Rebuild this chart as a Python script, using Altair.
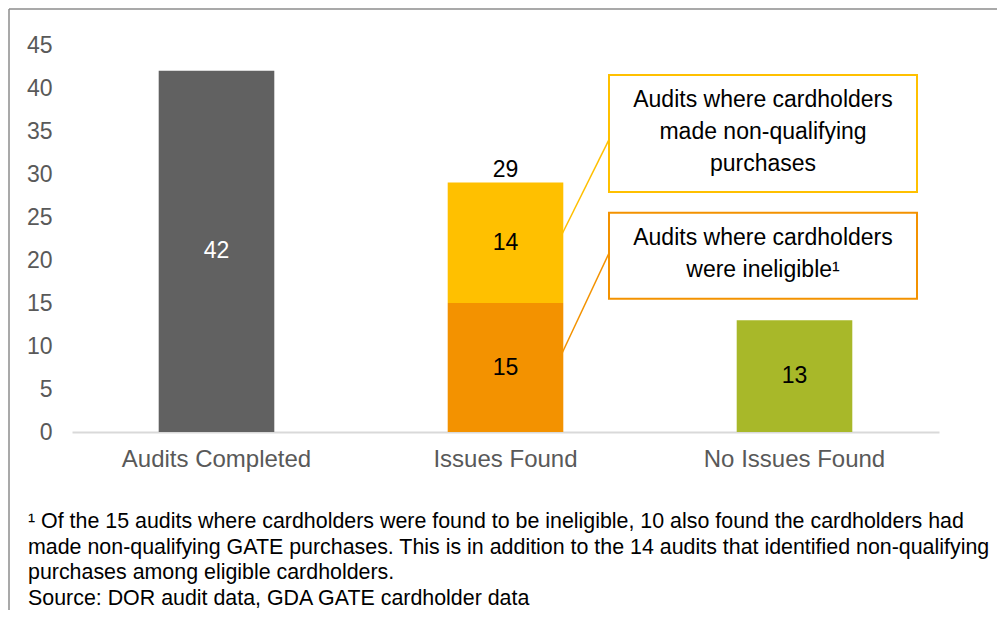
import altair as alt
import pandas as pd

# ---------------- data ----------------
cat_order = ["Audits Completed", "Issues Found", "No Issues Found"]
categories = ["Audits Completed", "Issues Found", "Issues Found", "No Issues Found"]
segments = ["Completed", "Ineligible", "Non-qualifying", "No issues"]
values = [42, 15, 14, 13]
stack_order = [0, 0, 1, 0]
seg_colors = ["#616161", "#F39200", "#FFC000", "#A8B829"]
label_colors = ["#FFFFFF", "#000000", "#000000", "#000000"]

total_cats = ["Issues Found"]
total_vals = [29]

callout_texts = [
    "Audits where cardholders\nmade non-qualifying\npurchases",
    "Audits where cardholders\nwere ineligible\u00b9",
]
callout_colors = ["#FFC000", "#F39200"]
callout_box_top = [41.5, 25.5]
callout_box_bottom = [27.9, 15.5]
callout_text_first = [38.6, 22.6]
leader_start = [22.3, 8.4]
leader_end = [34.0, 20.8]

footnote_lines = [
    "\u00b9 Of the 15 audits where cardholders were found to be ineligible, 10 also found the cardholders had",
    "made non-qualifying GATE purchases. This is in addition to the 14 audits that identified non-qualifying",
    "purchases among eligible cardholders.",
    "Source: DOR audit data, GDA GATE cardholder data",
]

FONT = "Liberation Sans"
W, H = 867, 387

# ---------------- tables ----------------
df = pd.DataFrame({
    "category": categories,
    "segment": segments,
    "value": values,
    "order": stack_order,
    "label_color": label_colors,
})
df = df.sort_values(["category", "order"]).reset_index(drop=True)
df["top"] = df.groupby("category")["value"].cumsum()
df["mid"] = df["top"] - df["value"] / 2

totals = pd.DataFrame({"category": total_cats, "total": total_vals})

callouts = pd.DataFrame({
    "text": callout_texts,
    "color": callout_colors,
    "box_top": callout_box_top,
    "box_bottom": callout_box_bottom,
    "text_first": callout_text_first,
    "l_start": leader_start,
    "l_end": leader_end,
})

foot = pd.DataFrame({"text": ["\n".join(footnote_lines)]})

# ---------------- encodings ----------------
x_enc = alt.X(
    "category:N",
    sort=cat_order,
    title=None,
    scale=alt.Scale(domain=cat_order, paddingInner=0.6, paddingOuter=0.3),
    axis=alt.Axis(
        labelAngle=0, labelFontSize=24, labelColor="#595959", labelFont=FONT,
        labelPadding=15, labelLimit=0, ticks=False, domainColor="#D9D9D9",
        domainWidth=2, grid=False,
    ),
)
y_scale = alt.Scale(domain=[0, 45], nice=False, zero=True)

bars = alt.Chart(df).mark_bar().encode(
    x=x_enc,
    y=alt.Y(
        "value:Q", stack="zero", title=None, scale=y_scale,
        axis=alt.Axis(
            values=list(range(0, 46, 5)), labelFontSize=23, labelColor="#595959",
            labelFont=FONT, labelPadding=20, ticks=False, domain=False, grid=False,
        ),
    ),
    color=alt.Color("segment:N", scale=alt.Scale(domain=segments, range=seg_colors), legend=None),
    order=alt.Order("order:Q"),
)

seg_labels = alt.Chart(df).mark_text(font=FONT, fontSize=23, baseline="middle").encode(
    x=alt.X("category:N", sort=cat_order),
    y=alt.Y("mid:Q"),
    text=alt.Text("value:Q"),
    color=alt.Color("label_color:N", scale=None),
)

total_labels = alt.Chart(totals).mark_text(
    font=FONT, fontSize=23, baseline="middle", dy=-13, color="#000000"
).encode(
    x=alt.X("category:N", sort=cat_order),
    y=alt.Y("total:Q"),
    text=alt.Text("total:Q"),
)

leaders = alt.Chart(callouts).mark_rule(strokeWidth=1.5).encode(
    x=alt.value(487), x2=alt.value(537),
    y=alt.Y("l_start:Q"), y2=alt.Y2("l_end"),
    color=alt.Color("color:N", scale=None),
)

boxes = alt.Chart(callouts).mark_rect(fill="white", strokeWidth=2).encode(
    x=alt.value(537), x2=alt.value(845),
    y=alt.Y("box_top:Q"), y2=alt.Y2("box_bottom"),
    stroke=alt.Color("color:N", scale=None),
)

box_text = alt.Chart(callouts).mark_text(
    font=FONT, fontSize=23, lineHeight=32, lineBreak="\n", align="center",
    baseline="middle", color="#000000",
).encode(
    x=alt.value(691),
    y=alt.Y("text_first:Q"),
    text="text:N",
)

footnote = alt.Chart(foot).mark_text(
    font=FONT, fontSize=21.4, lineHeight=25.5, lineBreak="\n", align="left",
    baseline="alphabetic", color="#000000",
).encode(
    x=alt.value(-44), y=alt.value(483), text="text:N",
)

frame_top = alt.Chart(foot).mark_rule(color="#8C8C8C", strokeWidth=1.5).encode(
    x=alt.value(-63), x2=alt.value(W + 58), y=alt.value(-36),
)
frame_left = alt.Chart(foot).mark_rule(color="#8C8C8C", strokeWidth=1.5).encode(
    x=alt.value(-63), y=alt.value(-36), y2=alt.value(H + 178),
)

chart = alt.layer(
    bars, seg_labels, total_labels, leaders, boxes, box_text, footnote, frame_top, frame_left
).properties(
    width=W, height=H,
    autosize=alt.AutoSizeParams(type="none"),
    padding={"left": 64, "top": 37, "right": 58, "bottom": 178},
).configure(font=FONT).configure_view(stroke=None)

chart.save("out.html", embed_options={"renderer": "svg", "actions": False})
